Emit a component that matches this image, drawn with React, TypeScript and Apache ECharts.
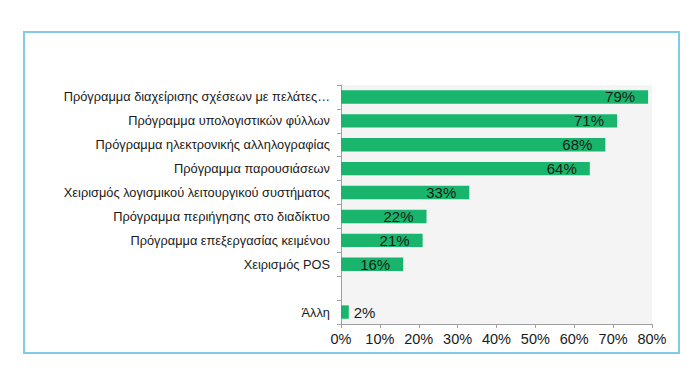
import React, { useEffect, useRef } from "react";
import * as echarts from "echarts";

const categories = [
  "Πρόγραμμα διαχείρισης σχέσεων με πελάτες…",
  "Πρόγραμμα υπολογιστικών φύλλων",
  "Πρόγραμμα ηλεκτρονικής αλληλογραφίας",
  "Πρόγραμμα παρουσιάσεων",
  "Χειρισμός λογισμικού λειτουργικού συστήματος",
  "Πρόγραμμα περιήγησης στο διαδίκτυο",
  "Πρόγραμμα επεξεργασίας κειμένου",
  "Χειρισμός POS",
  "",
  "Άλλη",
];
const values: (number | null)[] = [79, 71, 68, 64, 33, 22, 21, 16, null, 2];
const axisMin = 0;
const axisMax = 80;
const axisInterval = 10;

const FONT = "'Liberation Sans', Arial, sans-serif";

export default function App() {
  const ref = useRef<HTMLDivElement>(null);
  useEffect(() => {
    if (!ref.current) return;
    const chart = echarts.init(ref.current, undefined, { renderer: "svg" });
    const data = values.map((v) => {
      if (v === null) return "-";
      if (v < 10) {
        return {
          value: v,
          label: { position: "right", distance: 5 },
        };
      }
      return v;
    });
    chart.setOption({
      animation: false,
      textStyle: { fontFamily: FONT },
      graphic: [
        {
          type: "rect",
          shape: { x: 24, y: 32, width: 655, height: 321 },
          style: { fill: "none", stroke: "#82cbe8", lineWidth: 2 },
          silent: true,
        },
      ],
      grid: {
        left: 341,
        right: 48,
        top: 85,
        bottom: 45,
        show: true,
        backgroundColor: "#f4f4f4",
        borderWidth: 0,
      },
      xAxis: {
        type: "value",
        min: axisMin,
        max: axisMax,
        interval: axisInterval,
        splitLine: { show: false },
        axisLine: { show: true, lineStyle: { color: "#a0a0a0", width: 1 } },
        axisTick: { show: true, length: 4, lineStyle: { color: "#a0a0a0" } },
        axisLabel: {
          formatter: "{value}%",
          color: "#1a1a1a",
          fontSize: 14.5,
          fontFamily: FONT,
          margin: 7,
        },
      },
      yAxis: {
        type: "category",
        data: categories,
        inverse: true,
        axisLine: { show: true, lineStyle: { color: "#a0a0a0", width: 1 } },
        axisTick: { show: true, length: 4, lineStyle: { color: "#a0a0a0" } },
        axisLabel: {
          color: "#1a1a1a",
          fontSize: 12.8,
          fontFamily: FONT,
          margin: 11,
        },
        splitLine: { show: false },
      },
      series: [
        {
          type: "bar",
          data,
          barCategoryGap: "44%",
          itemStyle: { color: "#1ab56c" },
          label: {
            show: true,
            position: "insideRight",
            distance: 13,
            formatter: "{c}%",
            color: "#1a1a1a",
            fontSize: 15,
            fontFamily: FONT,
          },
        },
      ],
    });
    return () => chart.dispose();
  }, []);
  return <div ref={ref} style={{ width: 700, height: 369, margin: -8 }} />;
}
